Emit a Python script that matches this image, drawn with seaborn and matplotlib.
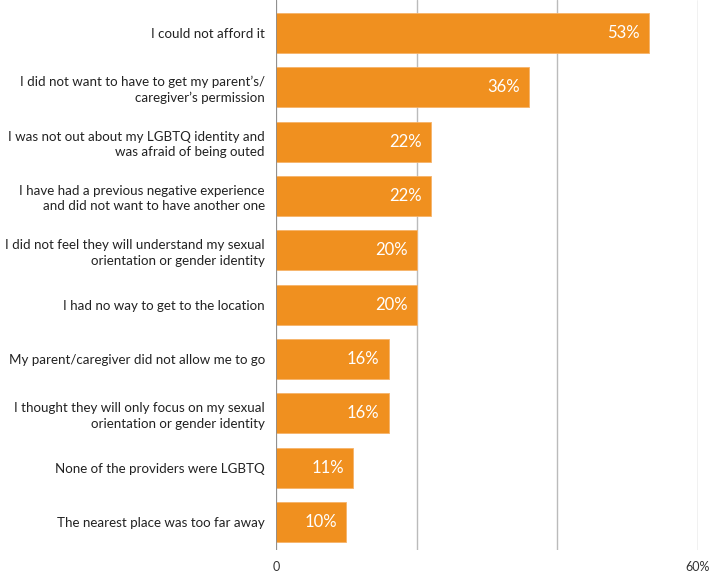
import matplotlib
matplotlib.use("Agg")
import matplotlib.pyplot as plt
import seaborn as sns
import pandas as pd

reasons = [
    "I could not afford it",
    "I did not want to have to get my parent\u2019s/\ncaregiver\u2019s permission",
    "I was not out about my LGBTQ identity and\nwas afraid of being outed",
    "I have had a previous negative experience\nand did not want to have another one",
    "I did not feel they will understand my sexual\norientation or gender identity",
    "I had no way to get to the location",
    "My parent/caregiver did not allow me to go",
    "I thought they will only focus on my sexual\norientation or gender identity",
    "None of the providers were LGBTQ",
    "The nearest place was too far away",
]
percent = [53, 36, 22, 22, 20, 20, 16, 16, 11, 10]
x_ticks = [0, 20, 40, 60]
x_tick_labels = ["0", "", "", "60%"]

df = pd.DataFrame({"reason": reasons, "percent": percent})

sns.set_theme(style="white")
plt.rcParams["font.family"] = ["Lato", "DejaVu Sans"]

fig = plt.figure(figsize=(7.12, 5.72), dpi=100)
ax = fig.add_axes([276 / 712, 1 - 550 / 572, (698 - 276) / 712, 550 / 572])

orange = "#F0901F"
sns.barplot(data=df, x="percent", y="reason", orient="h", color=orange,
            saturation=1, width=0.74, edgecolor="#F6B36A", linewidth=0.6,
            ax=ax, zorder=3)

ax.set_xlim(0, 60)
ax.set_ylim(9.515, -0.607)
ax.set_xticks(x_ticks)
ax.set_xticklabels(x_tick_labels, fontsize=9, color="#333333")
ax.grid(axis="x", color="#BBBBBB", linewidth=1, zorder=0)
ax.axvline(0, color="#888888", linewidth=1.2, zorder=4)
ax.tick_params(axis="x", length=5, color="#BBBBBB", pad=3)
ax.tick_params(axis="y", length=0, pad=8, labelsize=9.6, labelcolor="#222222")
for lbl in ax.get_yticklabels():
    lbl.set_linespacing(1.35)
ax.set_xlabel("")
ax.set_ylabel("")
for s in ax.spines.values():
    s.set_visible(False)

for i, v in enumerate(percent):
    ax.text(v - 1.3, i, f"{v}%", ha="right", va="center", color="white",
            fontsize=12, zorder=5)

fig.savefig("out.png", dpi=100)
